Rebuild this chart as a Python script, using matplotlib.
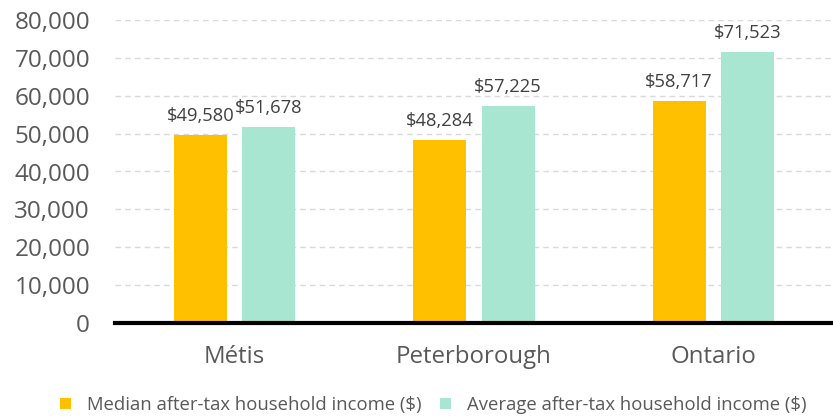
import matplotlib.pyplot as plt
import numpy as np

categories = ["Métis", "Peterborough", "Ontario"]
median_income = [49580, 48284, 58717]
average_income = [51678, 57225, 71523]
series_names = ["Median after-tax household income ($)", "Average after-tax household income ($)"]

plt.rcParams['font.family'] = ['Open Sans', 'DejaVu Sans']
text_color = '#595959'

fig = plt.figure(figsize=(8.33, 4.19), dpi=100)
ax = fig.add_axes([115 / 833, 1 - 323 / 419, 718 / 833, 303 / 419])

x = np.arange(len(categories))
w = 0.222
off = 0.143
b1 = ax.bar(x - off, median_income, w, color='#FFC000', label=series_names[0], zorder=3)
b2 = ax.bar(x + off, average_income, w, color='#A9E6D2', label=series_names[1], zorder=3)

for bars in (b1, b2):
    for r in bars:
        ax.text(r.get_x() + r.get_width() / 2, r.get_height() + 2600, f"${r.get_height():,.0f}",
                ha='center', va='bottom', fontsize=13.2, color='#404040')

ax.set_xlim(-0.5, 2.5)
ax.set_ylim(0, 80000)
ax.set_yticks(range(0, 80001, 10000))
ax.set_yticklabels([f"{v:,}" for v in range(0, 80001, 10000)], fontsize=17.5, color=text_color)
ax.set_xticks(x)
ax.set_xticklabels(categories, fontsize=17.3, color=text_color)
ax.tick_params(axis='both', length=0)
ax.tick_params(axis='x', pad=16)
ax.tick_params(axis='y', pad=18)
ax.grid(axis='y', color='#D9D9D9', linestyle=(0, (4, 3)), linewidth=1, zorder=0)
for s in ['top', 'right', 'left']:
    ax.spines[s].set_visible(False)
ax.spines['bottom'].set_linewidth(3)
ax.spines['bottom'].set_color('black')
ax.spines['bottom'].set_zorder(4)

fig.legend(handles=[b1, b2], loc='center', bbox_to_anchor=(0.52, 1 - 405 / 419), ncol=2,
           frameon=False, fontsize=13.3, labelcolor=text_color, handlelength=0.6, handleheight=0.6,
           columnspacing=1.0, handletextpad=0.85, borderpad=0, borderaxespad=0)

plt.savefig("out.png", dpi=100)
